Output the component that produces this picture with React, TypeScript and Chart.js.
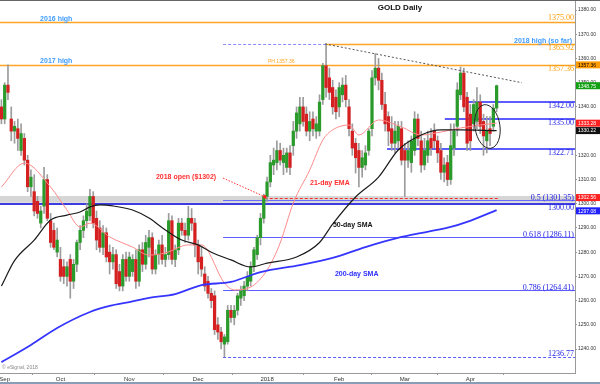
import React, { useEffect, useRef } from "react";
import { Chart, registerables } from "chart.js";

Chart.register(...registerables);

// ---- OHLC (daily, index 0 = early Sep 2017 ... 151 = mid Apr 2018) ----
const opens = [1340,1335,1349,1335,1330,1331,1322,1327,1318,1307,1305,1301,1292,1299,1310,1293,1289,1280,1277,1274,1270,1277,1268,1275,1284,1289,1293,1295,1303,1294,1290,1282,1288,1280,1276,1279,1272,1266,1277,1270,1272,1277,1268,1281,1275,1282,1286,1273,1279,1283,1277,1279,1293,1277,1281,1292,1289,1287,1294,1292,1283,1278,1271,1268,1263,1262,1250,1247,1242,1243,1256,1253,1256,1261,1262,1266,1268,1274,1279,1286,1294,1303,1309,1316,1317,1322,1317,1315,1321,1324,1330,1333,1340,1337,1330,1335,1330,1330,1343,1357,1352,1348,1344,1340,1345,1349,1340,1330,1325,1322,1315,1316,1322,1331,1352,1356,1351,1341,1336,1331,1325,1326,1331,1322,1318,1317,1322,1335,1326,1316,1320,1327,1330,1326,1322,1313,1317,1310,1323,1332,1345,1354,1344,1337,1333,1334,1342,1334,1326,1331,1332,1339.5];
const highs = [1343,1350,1357.4,1340,1334,1335,1333,1329,1320,1314,1312,1303,1299,1315,1312,1296,1292,1290,1282,1277,1276,1279,1277,1285,1291,1295,1300,1306,1305,1297,1293,1291,1290,1283,1282,1281,1275,1279,1280,1280,1279,1281,1283,1284,1287,1289,1288,1281,1285,1287,1282,1296,1295,1283,1294,1294,1292,1299,1298,1294,1285,1282,1274,1270,1265,1264,1253,1249,1246,1258,1258,1258,1263,1266,1268,1272,1276,1282,1287,1296,1304,1311,1320,1323,1326,1325,1323,1323,1324,1334,1340,1344,1344,1340,1338,1338,1336,1345,1358,1366,1356,1351,1347,1350,1352,1353,1343,1333,1327,1325,1322,1324,1331,1355,1362,1360,1354,1346,1338,1336,1334,1334,1334,1325,1326,1328,1338,1337,1330,1327,1330,1331,1333,1328,1325,1319,1320,1333,1333,1350,1356.5,1356,1346,1341,1343,1348,1345,1337,1336,1336,1341,1349];
const lows = [1333,1333,1343,1326,1325,1322,1320,1316,1305,1303,1295,1294,1290,1296,1293,1282,1281,1278,1268,1267,1266,1261,1265,1272,1281,1286,1290,1293,1290,1281,1280,1279,1276,1271,1273,1265,1264,1264,1268,1268,1270,1265,1266,1272,1273,1278,1271,1271,1275,1275,1274,1277,1275,1274,1279,1287,1284,1285,1289,1278,1271,1270,1264,1261,1257,1246,1244,1240,1236.8,1242,1251,1250,1254,1258,1260,1264,1266,1272,1277,1283,1292,1301,1307,1312,1314,1316,1312,1313,1312,1320,1327,1330,1332,1328,1326,1328,1327,1328,1341,1344,1343,1337,1335,1336,1342,1340,1328,1320,1312.7,1307,1311,1314,1320,1328,1349,1347,1339,1330,1324,1322,1321,1323,1316,1303,1315,1313,1320,1324,1313,1314,1317,1320,1323,1317,1310,1309,1307.5,1308,1320,1328,1343,1338,1322,1322,1330,1331,1329,1320,1321,1324,1330,1338];
const closes = [1335,1349,1346,1330,1332,1327,1329,1318,1307,1311,1297,1296,1297,1310,1294,1284,1282,1285,1270,1270,1274,1268,1275,1284,1289,1293,1297,1303,1292,1285,1282,1288,1278,1276,1279,1267,1266,1277,1270,1278,1277,1268,1281,1275,1284,1286,1273,1279,1283,1277,1279,1293,1277,1281,1292,1289,1287,1294,1292,1283,1276,1273,1266,1263,1260,1248,1247,1243,1245,1256,1253,1256,1262,1264,1266,1270,1274,1281,1286,1294,1303,1309,1317,1318,1322,1318,1320,1321,1315,1330,1337.5,1340,1334,1330,1334,1331,1333,1342,1357,1348,1346,1340,1338,1348,1349,1343,1331,1323,1319,1315,1319,1321,1330,1352,1356,1351,1341,1333,1330,1325,1330,1332,1318,1318,1322,1326,1335,1327,1316,1322,1326,1323,1326,1321,1313,1316,1310,1324,1330,1347,1354,1340,1325,1326,1341,1342,1332,1328,1330,1329,1339.5,1348.75];

// ---- indicator readings (index, value) ----
const ema21Idx = [0,7,15,20,24,27,33,40,45,50,57,61,68,71,76,81,85,89,94,98,101,106,109,115,122,128,134,140,146,151];
const ema21Val = [1306.9,1316.8,1306.9,1297.4,1290.4,1292,1286.3,1282.1,1278.8,1279.7,1283,1283,1267.3,1264.4,1265.6,1272.6,1283.8,1300.3,1313.9,1326.3,1330.5,1332.5,1328.4,1334.6,1331.7,1328.4,1329.6,1331.3,1332.5,1333.3];
const sma50Idx = [0,4,10,15,20,24,27,30,34,40,45,50,55,60,64,70,76,81,90,97,101,108,115,121,128,134,140,151];
const sma50Val = [1266,1276.5,1285,1293.3,1295.3,1296.6,1298.7,1299.5,1299.1,1297.4,1294.1,1289.2,1285,1283,1280,1276.8,1273.9,1275.5,1278,1284,1291.6,1302.8,1311,1322.2,1328.4,1330.5,1330.5,1330.2];
const sma200Idx = [0,9,17,27,33,39,45,53,61,70,79,91,101,111,122,137,142,151];
const sma200Val = [1234.6,1241.7,1248.7,1255.3,1257.8,1259.4,1261.1,1262.7,1266.4,1267.7,1271.8,1274.7,1277.6,1282.1,1286.3,1290.4,1292.5,1297.4];

// ---- axes ----
const monthTickIdx = [1, 18, 39, 60, 81, 103, 123, 143];
const monthTickLabels = ["Sep", "Oct", "Nov", "Dec", "2018", "Feb", "Mar", "Apr"];
const yTicks = [1240,1250,1260,1270,1280,1290,1300,1310,1320,1330,1340,1350,1360,1370,1380];
const xRange = [-0.43, 174.9];
const yRange = [1230.1, 1384.15];

// ---- levels ----
const levelPrices = [1375, 1365.92, 1357.36, 1342, 1335, 1322.71, 1301.35, 1300, 1286.11, 1264.41, 1236.77];
const levelLabels = ["1375.00","1365.92","1357.36","1342.00","1335.00","1322.71","0.5 (1301.35)","1300.00","0.618 (1286.11)","0.786 (1264.41)","1236.77"];
const levelStartIdx = [null, 99, null, 142.3, 135.2, 117.6, 67.6, null, 67.6, 67.6, 67.6];
const open2018 = 1302.56;
const band = [1300.4, 1303.2];
const trendIdx = [98.7, 158.7];
const trendVal = [1366, 1350];
const tagValues = [1357.36, 1348.75, 1333.28, 1330.22, 1302.56, 1297.08];

const levelStyle = [
  { c: "#ffa424", w: 1.5, tc: "#ff9c00", dy: -4 },
  { c: "#ffa424", w: 1.5, tc: "#ff9c00", dy: 4 },
  { c: "#ffa424", w: 1.5, tc: "#ff9c00", dy: 4 },
  { c: "#5c5cff", w: 2, tc: "#2222e6", dy: 4 },
  { c: "#5c5cff", w: 2, tc: "#2222e6", dy: 4 },
  { c: "#5c5cff", w: 2, tc: "#2222e6", dy: 4 },
  { c: "#6b6bff", w: 1, tc: "#2222e6", dy: -3 },
  { c: "#3c3ce0", w: 2, tc: "#2222e6", dy: 4.5 },
  { c: "#5c5cff", w: 1, tc: "#2222e6", dy: -2.5 },
  { c: "#5c5cff", w: 1, tc: "#2222e6", dy: -2.5 },
  { c: "#5c5cff", w: 1, tc: "#2222e6", dy: -2.5, dash: [3, 2] },
];
const tagStyle = [
  { bg: "#ff9c00", fg: "#000" },
  { bg: "#12a012", fg: "#fff" },
  { bg: "#ff2020", fg: "#fff" },
  { bg: "#111111", fg: "#fff" },
  { bg: "#ff2020", fg: "#fff" },
  { bg: "#2020ff", fg: "#fff" },
];

const SANS = '"Liberation Sans", Arial, sans-serif';
const SERIF = '"Liberation Serif", "Times New Roman", serif';

const overlay = {
  id: "overlay",
  beforeDatasetsDraw(chart: any) {
    const { ctx, chartArea: a, scales } = chart;
    const X = (i: number) => scales.x.getPixelForValue(i);
    const Y = (v: number) => scales.y.getPixelForValue(v);
    ctx.save();
    ctx.fillStyle = "#d6d6d6";
    ctx.fillRect(a.left, Y(band[1]), a.right - a.left, Y(band[0]) - Y(band[1]));
    // purple dashed to 2018 high
    ctx.strokeStyle = "#8c8cff";
    ctx.lineWidth = 1;
    ctx.setLineDash([3, 2]);
    ctx.beginPath();
    ctx.moveTo(X(67.6), Math.round(Y(levelPrices[1])) + 0.5);
    ctx.lineTo(X(99), Math.round(Y(levelPrices[1])) + 0.5);
    ctx.stroke();
    // 2018 open red dashed
    ctx.strokeStyle = "#ff2a2a";
    ctx.beginPath();
    ctx.moveTo(X(80.3), Math.round(Y(open2018)) + 0.5);
    ctx.lineTo(X(152), Math.round(Y(open2018)) + 0.5);
    ctx.stroke();
    levelPrices.forEach((v, k) => {
      const s = levelStyle[k];
      const st = levelStartIdx[k];
      const x0 = st == null ? a.left : X(st);
      const yy = Math.round(Y(v)) + (s.w % 2 ? 0.5 : 0);
      ctx.strokeStyle = s.c;
      ctx.lineWidth = s.w;
      ctx.setLineDash(s.dash || []);
      ctx.beginPath();
      ctx.moveTo(x0, yy);
      ctx.lineTo(a.right, yy);
      ctx.stroke();
    });
    ctx.restore();
  },
  afterDatasetsDraw(chart: any) {
    const { ctx, chartArea: a, scales } = chart;
    const X = (i: number) => scales.x.getPixelForValue(i);
    const Y = (v: number) => scales.y.getPixelForValue(v);
    ctx.save();
    // trend line
    ctx.strokeStyle = "#555";
    ctx.lineWidth = 1;
    ctx.setLineDash([2, 2]);
    ctx.beginPath();
    ctx.moveTo(X(trendIdx[0]), Y(trendVal[0]));
    ctx.lineTo(X(trendIdx[1]), Y(trendVal[1]));
    ctx.stroke();
    // arrow to 2018 open
    ctx.strokeStyle = "#ff3030";
    ctx.setLineDash([1.5, 1.5]);
    ctx.beginPath();
    ctx.moveTo(X(67.6), Y(1310.6));
    ctx.lineTo(X(80.3), Y(1302.9));
    ctx.stroke();
    ctx.setLineDash([]);
    ctx.fillStyle = "#ff2020";
    ctx.beginPath();
    ctx.arc(X(80.3), Y(1302.9), 1.8, 0, Math.PI * 2);
    ctx.fill();
    // ellipse
    ctx.strokeStyle = "#222";
    ctx.lineWidth = 1;
    ctx.beginPath();
    ctx.ellipse(X(148.2), Y(1331.9), 12.5, 22, -0.15, 0, Math.PI * 2);
    ctx.stroke();
    // level labels
    ctx.textBaseline = "middle";
    ctx.textAlign = "right";
    ctx.font = "8px " + SERIF;
    levelPrices.forEach((v, k) => {
      ctx.fillStyle = levelStyle[k].tc;
      ctx.fillText(levelLabels[k], a.right - 1, Y(v) + levelStyle[k].dy);
    });
    // bold annotations
    ctx.font = "bold 7px " + SANS;
    ctx.fillStyle = "#3f9cff";
    ctx.fillText("2018 high (so far)", a.right - 3, Y(levelPrices[1]) - 3.5);
    ctx.textAlign = "left";
    ctx.fillText("2016 high", X(11.8), Y(1375) - 3.5);
    ctx.fillText("2017 high", X(11.8), Y(1357.36) - 3.5);
    ctx.fillStyle = "#ff3030";
    ctx.fillText("2018 open ($1302)", X(47.1), Y(1311));
    ctx.fillText("21-day EMA", X(94.1), Y(1308.6));
    ctx.fillStyle = "#111";
    ctx.fillText("50-day SMA", X(101.1), Y(1291.2));
    ctx.fillStyle = "#2f2fff";
    ctx.fillText("200-day SMA", X(101.7), Y(1271));
    ctx.font = "5px " + SANS;
    ctx.fillStyle = "#ffa424";
    ctx.fillText("PH 1357.36", X(81.3), Y(1357.36) - 3);
    ctx.fillStyle = "#888";
    ctx.fillText("\u00a9 eSignal, 2018", X(0.2), Y(1232.3));
    // title
    ctx.font = "bold 8px " + SANS;
    ctx.fillStyle = "#111";
    ctx.textAlign = "center";
    ctx.fillText("GOLD Daily", 400, 7.5);
    ctx.restore();
  },
  afterDraw(chart: any) {
    const { ctx, chartArea: a, scales, width, height } = chart;
    const Y = (v: number) => scales.y.getPixelForValue(v);
    ctx.save();
    ctx.font = "5px " + SANS;
    ctx.textBaseline = "middle";
    ctx.textAlign = "left";
    tagValues.forEach((v, k) => {
      const yy = Y(v);
      ctx.fillStyle = tagStyle[k].bg;
      ctx.fillRect(a.right + 1, yy - 3.5, width - a.right - 1, 7);
      ctx.fillStyle = tagStyle[k].fg;
      ctx.fillText(v.toFixed(2), a.right + 3, yy + 0.5);
    });
    ctx.fillStyle = "#666";
    ctx.fillRect(0, 0, width, 1);
    ctx.fillStyle = "#8a9db6";
    ctx.fillRect(0, height - 2, width, 2);
    ctx.restore();
  },
};

export default function App() {
  const ref = useRef<HTMLCanvasElement | null>(null);
  useEffect(() => {
    document.body.style.margin = "0";
    const idx = opens.map((_, i) => i);
    const wickData = idx.map((i) => ({ x: i, y: [lows[i], highs[i]] }));
    const bodyData = idx.map((i) => ({ x: i, y: [Math.min(opens[i], closes[i]), Math.max(opens[i], closes[i])] }));
    const bodyColors = idx.map((i) => (closes[i] >= opens[i] ? "#2a9a2a" : "#d42020"));
    const pts = (ix: number[], vals: number[]) => ix.map((x, k) => ({ x, y: vals[k] }));
    const chart = new Chart(ref.current as HTMLCanvasElement, {
      type: "line",
      data: {
        datasets: [
          { type: "line", data: pts(sma200Idx, sma200Val), borderColor: "#3535ff", borderWidth: 1.8, pointRadius: 0, cubicInterpolationMode: "monotone", order: 0 } as any,
          { type: "line", data: pts(sma50Idx, sma50Val), borderColor: "#1a1a1a", borderWidth: 1.2, pointRadius: 0, cubicInterpolationMode: "monotone", order: 0 } as any,
          { type: "line", data: pts(ema21Idx, ema21Val), borderColor: "#ff8a8a", borderWidth: 1, pointRadius: 0, cubicInterpolationMode: "monotone", order: 0 } as any,
          { type: "bar", data: bodyData, backgroundColor: bodyColors, barThickness: 2.6, minBarLength: 1, grouped: false, order: 1 } as any,
          { type: "bar", data: wickData, backgroundColor: "#9c9c9c", barThickness: 1, grouped: false, order: 2 } as any,
        ],
      },
      options: {
        responsive: false,
        animation: false,
        devicePixelRatio: 1,
        layout: { padding: 0 },
        events: [],
        plugins: { legend: { display: false }, tooltip: { enabled: false }, title: { display: false } },
        scales: {
          x: {
            type: "linear",
            offset: false,
            min: xRange[0],
            max: xRange[1],
            afterBuildTicks: (s: any) => { s.ticks = monthTickIdx.map((v) => ({ value: v })); },
            afterFit: (s: any) => { s.height = 11; s.paddingLeft = 0; s.paddingRight = 0; },
            grid: { drawOnChartArea: false, drawTicks: true, tickLength: 2, color: "#999" },
            border: { color: "#999" },
            ticks: {
              autoSkip: false,
              maxRotation: 0,
              padding: 1,
              color: "#333",
              font: { size: 6, family: SANS },
              callback: (v: any) => { const k = monthTickIdx.indexOf(Number(v)); return k >= 0 ? monthTickLabels[k] : ""; },
            },
          },
          y: {
            type: "linear",
            position: "right",
            min: yRange[0],
            max: yRange[1],
            afterBuildTicks: (s: any) => { s.ticks = yTicks.map((v) => ({ value: v })); },
            afterFit: (s: any) => { s.width = 25; s.paddingTop = 0; s.paddingBottom = 0; },
            grid: { drawOnChartArea: false, drawTicks: true, tickLength: 2, color: "#999" },
            border: { color: "#999" },
            ticks: {
              padding: 1,
              color: "#333",
              font: { size: 5, family: SANS },
              callback: (v: any) => Number(v).toFixed(2),
            },
          },
        },
      } as any,
      plugins: [overlay],
    });
    return () => chart.destroy();
  }, []);
  return (
    <div style={{ width: 600, height: 384 }}>
      <canvas ref={ref} width={600} height={384} style={{ display: "block" }} />
    </div>
  );
}
